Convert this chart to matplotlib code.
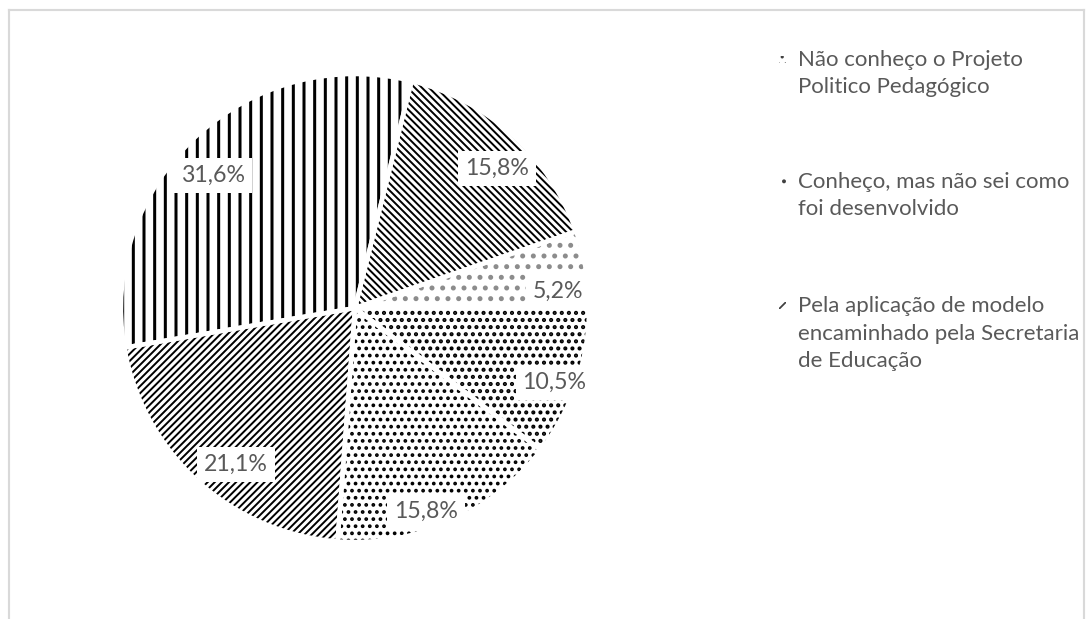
import matplotlib

matplotlib.use('Agg')
import matplotlib.pyplot as plt
from matplotlib.lines import Line2D
from matplotlib.patches import Rectangle
import numpy as np

# dados (ordem no sentido horario a partir do topo)
fatias = ['15,8%', '5,2%', '10,5%', '15,8%', '21,1%', '31,6%']
valores = [15.8, 5.2, 10.5, 15.8, 21.1, 31.6]
hachuras = ['\\' * 6, '..', '...', '...', '/' * 6, '||']
cores_hachura = ['black', '#8c8c8c', 'black', 'black', 'black', 'black']
espessura_hachura = [1.1, 1.6, 1.5, 1.3, 1.1, 1.7]

legenda = ['Não conheço o Projeto\nPolitico Pedagógico',
           'Conheço, mas não sei como\nfoi desenvolvido',
           'Pela aplicação de modelo\nencaminhado pela Secretaria\nde Educação']
legenda_hachuras = ['...', '..', '////']

# posicao dos rotulos (fracao do raio e ajuste de angulo)
dist_rotulo = [0.85, 0.87, 0.91, 0.92, 0.84, 0.83]
ajuste_ang = [-3, -5, -2, -5, 5, 4]

DPI = 128
W, H = 1088, 619
plt.rcParams['font.family'] = ['Lato', 'DejaVu Sans']
plt.rcParams['hatch.linewidth'] = 1.0
cinza = '#595959'

fig = plt.figure(figsize=(W / DPI, H / DPI), dpi=DPI)

cx, cy, r = 355, 308, 234
m = 1.05
ax = fig.add_axes([(cx - r * m) / W, (H - cy - r * m) / H, 2 * r * m / W, 2 * r * m / H])

cunhas, _ = ax.pie(valores, startangle=76, counterclock=False, radius=1,
                   colors=['white'] * len(valores),
                   wedgeprops=dict(linewidth=0))
for c, h, ch, lw in zip(cunhas, hachuras, cores_hachura, espessura_hachura):
    c.set_hatch(h)
    c.set_edgecolor(ch)
    if hasattr(c, 'set_hatch_linewidth'):
        c.set_hatch_linewidth(lw)

# bordas brancas entre as fatias
ax.pie(valores, startangle=76, counterclock=False, radius=1,
       wedgeprops=dict(fill=False, edgecolor='white', linewidth=2.5))

for c, txt, d, da in zip(cunhas, fatias, dist_rotulo, ajuste_ang):
    ang = np.deg2rad((c.theta1 + c.theta2) / 2 + da)
    ax.text(d * np.cos(ang), d * np.sin(ang), txt, ha='center', va='center',
            fontsize=13, color=cinza,
            bbox=dict(boxstyle='square,pad=0.3', facecolor='white', edgecolor='none'))

ax.set_xlim(-m, m)
ax.set_ylim(-m, m)
ax.set_aspect('equal')
ax.axis('off')

# legenda (apenas tres entradas visiveis)
centros = [73.5, 195.5, 333.5]
linha1 = [59, 181, 305]
for txt, yc, y1, h in zip(legenda, centros, linha1, legenda_hachuras):
    fig.text(798 / W, 1 - yc / H, txt, ha='left', va='center', fontsize=12.5,
             color=cinza, linespacing=1.45)
    fig.add_artist(Rectangle((779 / W, 1 - (y1 + 4) / H), 7 / W, 7 / H,
                             transform=fig.transFigure, facecolor='white',
                             edgecolor='#404040', linewidth=0, hatch=h))

# moldura do grafico
borda = '#d9d9d9'
fig.add_artist(Line2D([9 / W, 1084 / W], [1 - 10 / H, 1 - 10 / H], color=borda,
                      linewidth=1.2, transform=fig.transFigure))
fig.add_artist(Line2D([9 / W, 9 / W], [1 - 10 / H, 0], color=borda,
                      linewidth=1.2, transform=fig.transFigure))
fig.add_artist(Line2D([1084 / W, 1084 / W], [1 - 10 / H, 0], color=borda,
                      linewidth=1.2, transform=fig.transFigure))

fig.savefig('out.png', dpi=DPI)
